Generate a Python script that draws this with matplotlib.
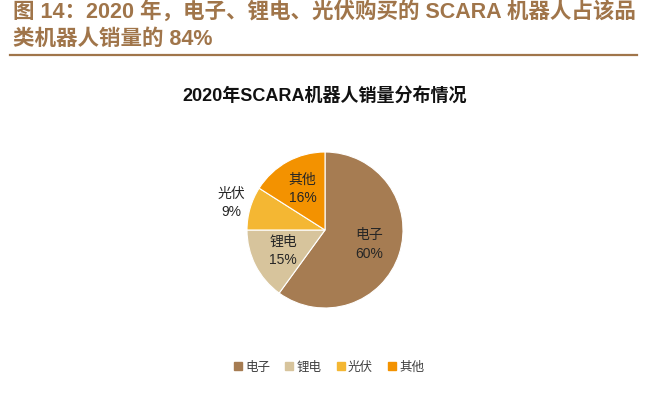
import matplotlib
matplotlib.use("Agg")
import matplotlib.pyplot as plt
import numpy as np

plt.rcParams['font.family'] = ['Noto Sans CJK SC', 'DejaVu Sans']
mixed = ['Liberation Sans', 'Noto Sans CJK SC']

# data
categories = ["电子", "锂电", "光伏", "其他"]
shares = [60, 15, 9, 16]
colors = ["#A67C52", "#D7C49C", "#F4B733", "#F39200"]

header_line1 = "图 14：2020 年，电子、锂电、光伏购买的 SCARA 机器人占该品"
header_line2 = "类机器人销量的 84%"
chart_title = "2020年SCARA机器人销量分布情况"

W, H = 661, 398
fig = plt.figure(figsize=(W / 100, H / 100), dpi=100)

# header
brown = "#A0754A"
fig.text(13 / W, 1 - 12 / H, header_line1, fontsize=15.5, fontweight="bold",
         color=brown, ha="left", va="center", family=mixed)
fig.text(13 / W, 1 - 39 / H, header_line2, fontsize=15.5, fontweight="bold",
         color=brown, ha="left", va="center", family=mixed)
fig.add_artist(plt.Line2D([10 / W, 637 / W], [1 - 55 / H, 1 - 55 / H],
                          color=brown, lw=1.6))

fig.text(325 / W, 1 - 96 / H, chart_title, fontsize=13, fontweight="bold",
         color="#111111", ha="center", va="center", family=mixed)

# pie
cx, cy, r = 325, 230, 78
ax = fig.add_axes([(cx - r) / W, (H - cy - r) / H, 2 * r / W, 2 * r / H])
wedges, _ = ax.pie(shares, colors=colors, startangle=90, counterclock=False,
                   wedgeprops=dict(edgecolor="white", linewidth=0.8))
ax.set_xlim(-1, 1)
ax.set_ylim(-1, 1)

for w, name, val in zip(wedges, categories, shares):
    mid = np.deg2rad((w.theta1 + w.theta2) / 2)
    dist = 1.25 if val < 10 else 0.6
    ax.text(dist * np.cos(mid), dist * np.sin(mid), f"{name}\n{val}%",
            ha="center", va="center", fontsize=10, color="#262626",
            linespacing=1.4, family=mixed)

handles = [plt.Line2D([], [], marker="s", linestyle="", markersize=6,
                      markerfacecolor=c, markeredgecolor=c) for c in colors]
fig.legend(handles, categories, loc="center", bbox_to_anchor=(328 / W, 1 - 367 / H),
           ncol=4, frameon=False, fontsize=9, handletextpad=0.1,
           columnspacing=1.0, handlelength=1.0, labelcolor="#404040")

fig.savefig("out.png", dpi=100)
